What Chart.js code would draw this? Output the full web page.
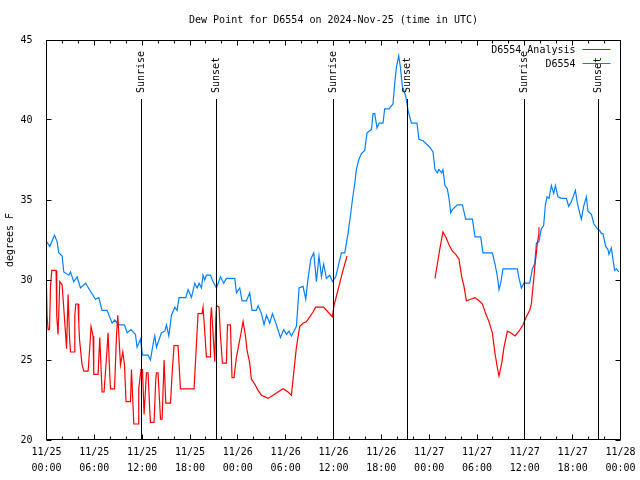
<!DOCTYPE html>
<html>
<head>
<meta charset="utf-8">
<title>Dew Point for D6554</title>
<script src="https://cdn.jsdelivr.net/npm/chart.js@4/dist/chart.umd.min.js"></script>
<style>
  html, body { margin: 0; padding: 0; background: #fff; }
  canvas { display: block; }
</style>
</head>
<body>
<canvas id="dewChart" width="640" height="480"></canvas>
<script>
// times are hours since 2024-11-25 00:00 UTC, values are degrees F
const blueTimes = [
  0.00, 0.41, 1.00, 1.33, 1.54, 1.96, 2.17, 2.80, 3.01, 3.42,
  3.84, 4.26, 4.89, 5.52, 6.14, 6.56, 6.97, 7.60, 8.23, 8.56,
  9.07, 9.78, 10.11, 10.61, 11.16, 11.36, 11.79, 12.04, 12.74, 13.04,
  13.37, 13.58, 13.79, 14.42, 14.84, 15.05, 15.34, 15.68, 16.09, 16.38,
  16.63, 17.47, 17.76, 18.18, 18.60, 18.89, 19.14, 19.44, 19.64, 19.85,
  20.06, 20.57, 20.89, 21.32, 21.82, 22.23, 22.57, 23.61, 23.83, 24.24,
  24.53, 25.08, 25.49, 25.78, 26.33, 26.54, 26.96, 27.29, 27.59, 28.00,
  28.34, 28.84, 29.34, 29.76, 30.10, 30.42, 30.72, 31.35, 31.68, 32.18,
  32.52, 32.81, 33.15, 33.52, 33.86, 34.18, 34.49, 34.77, 35.11, 35.53,
  35.87, 36.28, 36.57, 36.99, 37.41, 37.62, 37.82, 38.12, 38.37, 38.66,
  38.87, 39.16, 39.50, 39.92, 40.20, 40.76, 40.96, 41.17, 41.46, 41.71,
  42.21, 42.42, 42.96, 43.46, 43.68, 43.89, 44.18, 44.39, 44.64, 45.06,
  45.35, 45.77, 46.47, 46.72, 47.23, 47.65, 48.07, 48.48, 48.73, 49.03,
  49.23, 49.57, 49.73, 49.98, 50.28, 50.49, 50.70, 50.91, 51.54, 52.17,
  52.58, 53.42, 53.75, 54.46, 54.75, 55.93, 56.26, 56.56, 56.76, 56.97,
  57.26, 59.06, 59.27, 59.57, 59.89, 60.61, 60.95, 61.23, 61.45, 61.77,
  62.07, 62.36, 62.58, 62.78, 63.03, 63.33, 63.62, 63.83, 64.16, 64.58,
  65.21, 65.50, 65.84, 66.34, 66.59, 66.88, 67.09, 67.38, 67.72, 67.92,
  68.35, 68.67, 69.10, 69.39, 69.60, 69.80, 70.14, 70.43, 70.55, 70.85,
  71.26, 71.48, 71.80
];
const blueValues = [
  32.4, 32.1, 32.8, 32.4, 31.7, 31.5, 30.5, 30.3, 30.5, 29.9,
  30.2, 29.5, 29.8, 29.3, 28.8, 28.9, 28.1, 28.1, 27.3, 27.5,
  27.2, 27.2, 26.7, 26.9, 26.6, 25.8, 26.3, 25.3, 25.3, 25.0,
  26.0, 26.5, 25.8, 26.7, 26.8, 27.2, 26.5, 27.8, 28.3, 28.1,
  28.9, 28.9, 29.4, 28.9, 29.8, 29.5, 29.8, 29.5, 30.3, 30.0,
  30.3, 30.3, 29.9, 29.5, 30.2, 29.8, 30.1, 30.1, 29.2, 29.5,
  28.7, 28.7, 29.2, 28.1, 28.1, 28.4, 27.9, 27.2, 27.8, 27.3,
  27.9, 27.2, 26.4, 26.9, 26.6, 26.8, 26.5, 27.1, 29.5, 29.6,
  28.8, 30.1, 31.3, 31.7, 29.9, 31.5, 30.2, 31.0, 30.1, 30.3,
  29.9, 30.2, 30.8, 31.7, 31.7, 32.3, 32.9, 34.0, 35.0, 36.0,
  36.9, 37.5, 37.9, 38.1, 39.2, 39.4, 40.4, 40.4, 39.5, 39.8,
  39.8, 40.7, 40.7, 41.0, 42.3, 43.3, 44.0, 43.3, 42.1, 41.5,
  40.6, 39.8, 39.8, 38.8, 38.7, 38.5, 38.3, 38.0, 36.9, 36.7,
  36.9, 36.7, 36.9, 35.9, 35.7, 35.1, 34.2, 34.4, 34.7, 34.7,
  33.8, 33.8, 32.7, 32.7, 31.7, 31.7, 31.0, 30.2, 29.4, 29.8,
  30.7, 30.7, 30.1, 29.5, 29.8, 29.8, 30.7, 31.0, 32.3, 32.4,
  33.2, 33.4, 34.7, 35.2, 35.1, 35.9, 35.4, 35.9, 35.2, 35.1,
  35.1, 34.6, 34.9, 35.6, 34.8, 34.2, 33.8, 34.6, 35.2, 34.3,
  34.1, 33.5, 33.2, 33.1, 32.9, 32.9, 32.1, 31.9, 31.6, 32.0,
  30.6, 30.7, 30.5
];

// analysis series, null marks the gap in the record
const redTimes = [
  0.00, 0.08, 0.20, 0.38, 0.50, 0.66, 1.20, 1.29, 1.45, 1.67,
  1.96, 2.38, 2.51, 2.71, 2.88, 3.01, 3.51, 3.55, 3.67, 3.96,
  4.05, 4.14, 4.46, 4.68, 5.22, 5.43, 5.59, 5.84, 5.93, 6.47,
  6.68, 6.97, 7.22, 7.60, 7.72, 7.94, 8.03, 8.53, 8.78, 8.94,
  9.28, 9.57, 9.78, 9.98, 10.53, 10.66, 10.95, 11.49, 11.57, 11.86,
  12.04, 12.24, 12.54, 12.74, 12.95, 13.04, 13.49, 13.70, 13.79, 13.99,
  14.30, 14.50, 14.75, 14.96, 15.55, 15.80, 16.00, 16.50, 16.80, 18.51,
  19.01, 19.51, 19.64, 20.06, 20.51, 20.57, 20.69, 21.11, 21.23, 21.32,
  21.64, 21.82, 22.07, 22.57, 22.70, 23.07, 23.27, 23.52, 23.83, 24.33,
  24.66, 24.96, 25.16, 25.49, 25.70, 26.12, 26.54, 26.96, 27.79, 28.42,
  29.04, 29.67, 30.30, 30.72, 31.05, 31.35, 31.77, 32.18, 32.61, 33.02,
  33.43, 33.77, 34.27, 34.77, 35.31, 35.86, 36.06, 36.37, 36.78, 37.19,
  37.70, 43.00,
  48.73, 49.03, 49.32, 49.73, 50.07, 50.49, 50.91, 51.33, 51.74, 52.08,
  52.37, 52.67, 53.21, 53.75, 54.25, 54.68, 55.09, 55.50, 55.93, 56.26,
  56.56, 56.76, 57.10, 57.39, 57.81, 58.23, 58.77, 59.27, 59.77, 60.19,
  60.61, 60.82, 60.95, 61.11, 61.24, 61.45, 61.57, 61.74, 61.77
];
const redValues = [
  29.5, 27.7, 26.9, 26.9, 29.6, 30.6, 30.6, 27.7, 26.6, 29.9,
  29.7, 26.7, 25.7, 29.1, 26.5, 25.5, 25.5, 27.8, 28.5, 28.5,
  27.3, 26.3, 24.7, 24.3, 24.3, 25.8, 27.1, 26.5, 24.1, 24.1,
  26.4, 23.0, 23.0, 25.7, 26.7, 24.0, 23.2, 23.2, 26.5, 27.8,
  24.7, 25.5, 24.7, 22.4, 22.4, 24.4, 21.0, 21.0, 23.2, 24.4,
  24.4, 21.6, 24.2, 24.2, 21.9, 21.1, 21.1, 23.7, 24.2, 24.2,
  21.3, 21.3, 25.0, 22.3, 22.3, 24.5, 25.9, 25.9, 23.2, 23.2,
  27.9, 27.9, 28.3, 25.2, 25.2, 27.5, 28.3, 24.9, 27.5, 28.4,
  28.3, 26.5, 24.8, 24.8, 27.2, 27.2, 23.9, 23.9, 25.2, 26.5,
  27.4, 26.5, 25.6, 24.8, 23.8, 23.5, 23.1, 22.8, 22.6, 22.8,
  23.0, 23.2, 23.0, 22.8, 24.4, 25.8, 27.1, 27.3, 27.4, 27.7,
  28.0, 28.3, 28.3, 28.3, 28.0, 27.7, 28.4, 29.0, 29.8, 30.6,
  31.5, null,
  30.1, 31.0, 31.9, 33.0, 32.7, 32.2, 31.8, 31.6, 31.3, 30.2,
  29.6, 28.7, 28.8, 28.9, 28.7, 28.5, 27.9, 27.4, 26.7, 25.4,
  24.5, 24.0, 24.8, 25.8, 26.8, 26.7, 26.5, 26.8, 27.2, 27.7,
  28.1, 28.5, 29.2, 30.0, 30.8, 31.7, 32.3, 32.8, 33.3
];

// sunrise / sunset markers (hours since start)
const sunTimes = [11.87, 21.27, 35.94, 45.22, 60.02, 69.30];
const sunLabels = ['Sunrise', 'Sunset', 'Sunrise', 'Sunset', 'Sunrise', 'Sunset'];

const FONT = '"DejaVu Sans Mono", "Liberation Mono", monospace';
Chart.defaults.font.family = FONT;
Chart.defaults.font.size = 10;
Chart.defaults.color = '#000';

const toPoints = (times, values) => times.map((t, i) => ({x: t, y: values[i]}));

const tickLabel = (v) => {
  const day = 25 + Math.floor(v / 24);
  const hour = String(v % 24).padStart(2, '0');
  return ['11/' + day, hour + ':00'];
};

// gnuplot look: box frame, inward ticks, sun lines, legend inside the plot
const gnuplotFrame = {
  id: 'gnuplotFrame',
  afterDatasetsDraw(chart) {
    const {ctx, chartArea: a, scales: {x, y}} = chart;
    const snap = (p) => Math.floor(p) + 0.5;
    const top = snap(a.top), bottom = snap(a.bottom) - 1;
    ctx.save();
    ctx.strokeStyle = '#000';
    ctx.lineWidth = 1;
    ctx.beginPath();
    ctx.rect(snap(a.left), top, snap(a.right) - snap(a.left), bottom - top);
    // x ticks every 2 h, major every 6 h, mirrored on top
    for (let h = 0; h <= 72; h += 2) {
      const px = snap(x.getPixelForValue(h));
      const len = h % 6 === 0 ? 5 : 3;
      ctx.moveTo(px, bottom); ctx.lineTo(px, bottom - len);
      ctx.moveTo(px, top); ctx.lineTo(px, top + len);
    }
    for (let v = 20; v <= 45; v += 5) {
      const py = snap(y.getPixelForValue(v));
      ctx.moveTo(snap(a.left), py); ctx.lineTo(snap(a.left) + 5, py);
      ctx.moveTo(snap(a.right), py); ctx.lineTo(snap(a.right) - 5, py);
    }
    ctx.stroke();

    // sunrise / sunset lines and labels
    ctx.font = '10px ' + FONT;
    ctx.fillStyle = '#000';
    ctx.beginPath();
    sunTimes.forEach((t, i) => {
      const px = snap(x.getPixelForValue(t));
      ctx.moveTo(px, a.top + 59);
      ctx.lineTo(px, bottom);
      ctx.save();
      ctx.translate(px, a.top + 53);
      ctx.rotate(-Math.PI / 2);
      ctx.textAlign = 'left';
      ctx.textBaseline = 'middle';
      ctx.fillText(sunLabels[i], 0, 0);
      ctx.restore();
    });
    ctx.stroke();

    // legend
    chart.data.datasets.forEach((ds, i) => {
      const ly = a.top + 9.5 + i * 14;
      ctx.textAlign = 'right';
      ctx.textBaseline = 'middle';
      ctx.fillText(ds.label, a.right - 45, ly + 1);
      ctx.strokeStyle = ds.borderColor;
      ctx.beginPath();
      ctx.moveTo(a.right - 38, ly);
      ctx.lineTo(a.right - 10, ly);
      ctx.stroke();
    });
    ctx.restore();
  }
};

new Chart(document.getElementById('dewChart'), {
  type: 'line',
  data: {
    datasets: [
      {
        label: 'D6554 Analysis',
        data: toPoints(redTimes, redValues),
        borderColor: '#ff0000',
        borderWidth: 1.2,
        pointRadius: 0,
        spanGaps: false
      },
      {
        label: 'D6554',
        data: toPoints(blueTimes, blueValues),
        borderColor: '#0080ff',
        borderWidth: 1.2,
        pointRadius: 0
      }
    ]
  },
  options: {
    responsive: false,
    animation: false,
    devicePixelRatio: 1,
    layout: {padding: {right: 19.5}},
    plugins: {
      legend: {display: false},
      tooltip: {enabled: false},
      title: {
        display: true,
        fullSize: false,
        text: 'Dew Point for D6554 on 2024-Nov-25 (time in UTC)',
        font: {size: 10, weight: 'normal'},
        color: '#000',
        padding: {top: 14, bottom: 14}
      }
    },
    scales: {
      x: {
        type: 'linear',
        min: 0,
        max: 72,
        grid: {display: false},
        border: {display: false},
        ticks: {
          stepSize: 6,
          autoSkip: false,
          maxRotation: 0,
          padding: -4,
          font: {lineHeight: 1.6},
          callback: tickLabel
        },
        afterFit: (s) => { s.height = 40; }
      },
      y: {
        min: 20,
        max: 45,
        grid: {display: false},
        border: {display: false},
        ticks: {stepSize: 5, padding: 6},
        title: {display: true, text: 'degrees F', font: {size: 10}, padding: {top: 4, bottom: 4}},
        afterFit: (s) => { s.width = 46.5; }
      }
    }
  },
  plugins: [gnuplotFrame]
});
</script>
</body>
</html>
